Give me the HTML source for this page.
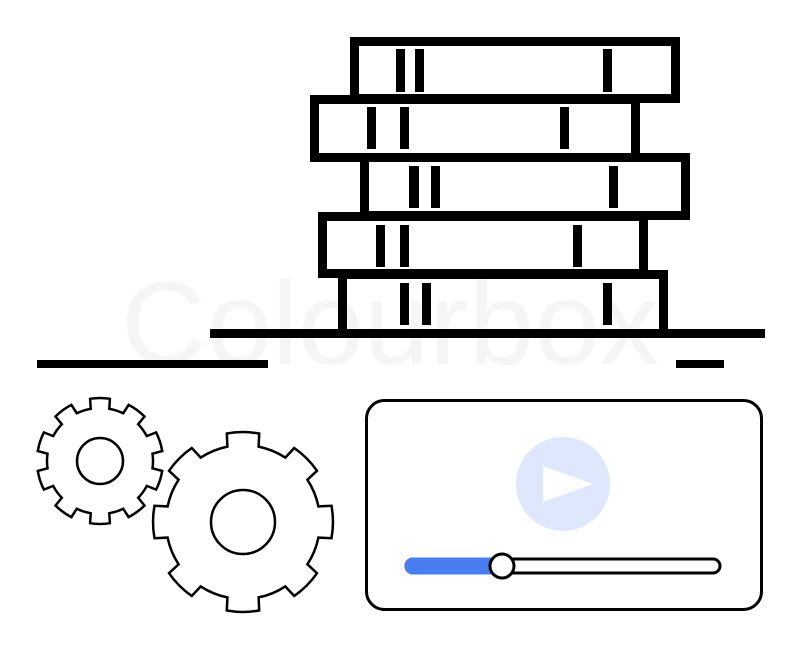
<!DOCTYPE html>
<html><head><meta charset="utf-8"><style>html,body{margin:0;padding:0;background:#fff}svg{display:block}</style></head>
<body>
<svg id="s" width="800" height="650" viewBox="0 0 800 650" xmlns="http://www.w3.org/2000/svg">
<text x="390" y="364" font-family="Liberation Sans, sans-serif" font-size="118" fill="#f5f5f5" text-anchor="middle">Colourbox</text>
<g fill="none" stroke="#000" stroke-width="9">
<rect x="354.5" y="41.5" width="321" height="57"/>
<rect x="314.5" y="99.5" width="321" height="58"/>
<rect x="364.5" y="157.5" width="321" height="58"/>
<rect x="322.5" y="216.5" width="321" height="57"/>
<path d="M342.5 333 V274.5 H663.5 V333"/>
</g>
<g fill="#000">
<rect x="396" y="49" width="9" height="43"/><rect x="415" y="49" width="9" height="43"/><rect x="603" y="49" width="9" height="43"/>
<rect x="367" y="107" width="9" height="42"/><rect x="400" y="107" width="9" height="42"/><rect x="560" y="107" width="9" height="42"/>
<rect x="409" y="166" width="10" height="42"/><rect x="431" y="166" width="9" height="42"/><rect x="609" y="166" width="9" height="42"/>
<rect x="376" y="225" width="9" height="42"/><rect x="400" y="225" width="9" height="42"/><rect x="573" y="225" width="9" height="42"/>
<rect x="400" y="283" width="9" height="42"/><rect x="422" y="283" width="9" height="42"/><rect x="603" y="283" width="9" height="42"/>
<rect x="210" y="329" width="555" height="9"/>
<rect x="37" y="360" width="231" height="8"/>
<rect x="676" y="360" width="48" height="8"/>
</g>
<g fill="none" stroke="#000" stroke-width="2.5">
<path id="g1"/><circle cx="100" cy="461" r="23"/>
<path id="g2"/><circle cx="243" cy="522" r="32"/>
</g>
<rect x="366.5" y="400.5" width="395" height="209" rx="18" fill="none" stroke="#000" stroke-width="3"/>
<circle cx="563" cy="484" r="47" fill="#dee7fb"/>
<path d="M543 466 L543 502 L593 484 Z" fill="#fff"/>
<rect x="406" y="559" width="314" height="14" rx="7" fill="#fff" stroke="#000" stroke-width="3"/>
<rect x="404.5" y="557.5" width="98" height="17" rx="8.5" fill="#4a7ef0"/>
<circle cx="502" cy="566" r="12" fill="#fff" stroke="#000" stroke-width="3"/>
</svg>
<script>
function gear(cx,cy,ro,ri,n,off,tf){
 var d="",st=2*Math.PI/n,tw=st*tf,a0=off;
 for(var i=0;i<n;i++){
  var a=a0+i*st;
  var p=[[ri,a-tw/2-st*0.03],[ro,a-tw/2],[ro,a+tw/2],[ri,a+tw/2+st*0.03]];
  for(var j=0;j<4;j++){var x=cx+p[j][0]*Math.cos(p[j][1]),y=cy+p[j][0]*Math.sin(p[j][1]);
   if(i==0&&j==0)d+="M"+x.toFixed(1)+" "+y.toFixed(1);
   else if(j==2)d+="A"+ro+" "+ro+" 0 0 1 "+x.toFixed(1)+" "+y.toFixed(1);
   else d+="L"+x.toFixed(1)+" "+y.toFixed(1);}
  var na=a+st-tw/2-st*0.03,x2=cx+ri*Math.cos(na),y2=cy+ri*Math.sin(na);
  d+="A"+ri+" "+ri+" 0 0 1 "+x2.toFixed(1)+" "+y2.toFixed(1);
 }
 return d+"Z";
}
document.getElementById("g1").setAttribute("d",gear(100,461,63,53,10,-Math.PI/2,0.5));
document.getElementById("g2").setAttribute("d",gear(243,522,90,77,8,-Math.PI/2,0.46));
</script>
</body></html>
